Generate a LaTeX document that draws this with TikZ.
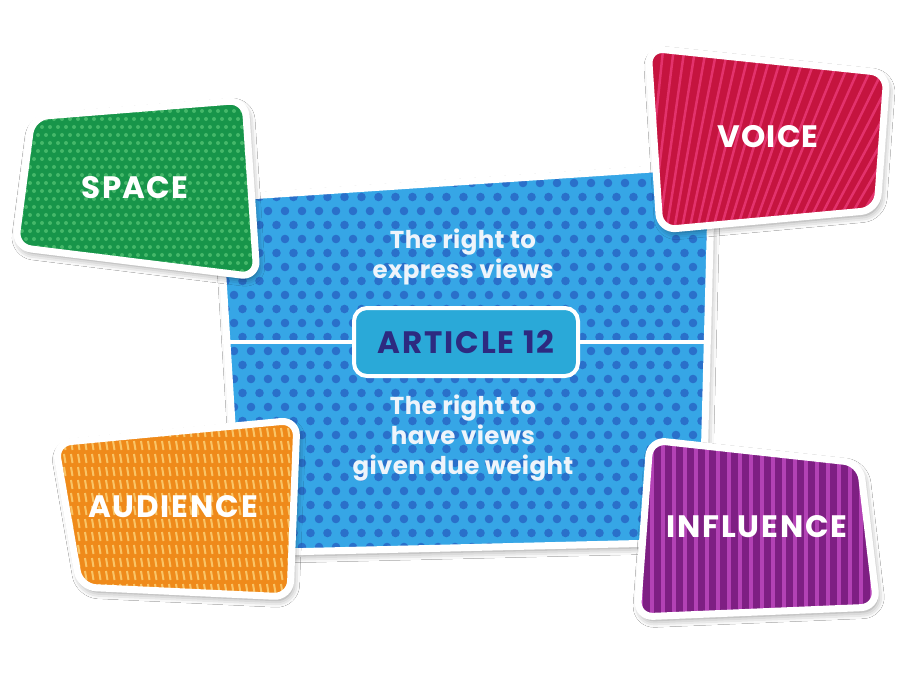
\documentclass[tikz,border=0pt]{standalone}
\usepackage{fontspec}
\setmainfont{Poppins}
\usetikzlibrary{shadows.blur}
\definecolor{bluebase}{HTML}{36A6E6}
\definecolor{bluedot}{HTML}{2A70CA}
\definecolor{greenbase}{HTML}{17954A}
\definecolor{greendot}{HTML}{45B86A}
\definecolor{redbase}{HTML}{C5143F}
\definecolor{redline}{HTML}{E3326C}
\definecolor{orangebase}{HTML}{EF8A1A}
\definecolor{orangeline}{HTML}{F9C466}
\definecolor{purplebase}{HTML}{7E1F83}
\definecolor{purpleline}{HTML}{B342B5}
\definecolor{artfill}{HTML}{2AA9D8}
\definecolor{arttext}{HTML}{2D2A80}
\definecolor{bodytxt}{HTML}{EEF4FB}
\begin{document}
\begin{tikzpicture}[x=1pt,y=-1pt,
  lbl/.style={text=white,font=\bfseries\fontsize{31}{34}\selectfont\addfontfeature{LetterSpace=4}},
  lblwide/.style={text=white,font=\bfseries\fontsize{31}{34}\selectfont\addfontfeature{LetterSpace=6}},
  body/.style={text=bodytxt,font=\bfseries\fontsize{24.5}{30}\selectfont\addfontfeature{LetterSpace=1.5},align=center},
  edgeline/.style={draw=white,line width=7pt,rounded corners=16pt,line join=round},
  sh/.style={blur shadow={shadow xshift=2pt,shadow yshift=-4pt,shadow blur radius=7pt,shadow opacity=45}},
  artbox/.style={draw=white,line width=4pt,fill=artfill,rounded corners=13pt,minimum width=224pt,minimum height=68pt,text=arttext,font=\bfseries\fontsize{31}{34}\selectfont\addfontfeature{LetterSpace=6}}]
\useasboundingbox (0,0) rectangle (900,675);
\fill[white] (0,0) rectangle (900,675);

% ---- central blue panel
\def\pblue{(218,198) -- (712,165) -- (702,542) -- (240,553) -- cycle}
\fill[bluebase,rounded corners=16pt,sh] \pblue;
\begin{scope}
\clip[rounded corners=16pt] \pblue;
\foreach \j in {0,...,29}{\foreach \i in {0,...,30}{
  \fill[bluedot] ({200+\i*17+mod(\j,2)*8.5},{155+\j*14}) circle (4.3pt);}}
\end{scope}
\draw[edgeline] \pblue;

\node[artbox] (art) at (466,342) {ARTICLE 12};
\coordinate (hl) at (222,342);
\coordinate (hr) at (709,342);
\draw[white,line width=4pt] (hl) -- (art.west);
\draw[white,line width=4pt] (art.east) -- (hr);
\node[body] (t1) at (463,257) {The right to\\express views};
\node[body] (t2) at (463,438) {The right to\\have views\\given due weight};

% ---- SPACE (green)
\def\pgreen{(32,117) -- (245,100) -- (257,277) -- (15,247) -- cycle}
\fill[greenbase,rounded corners=16pt,sh] \pgreen;
\begin{scope}
\clip[rounded corners=16pt] \pgreen;
\foreach \j in {0,...,23}{\foreach \i in {0,...,32}{
  \fill[greendot] ({10+\i*8+mod(\j,2)*4},{95+\j*8}) circle (2pt);}}
\end{scope}
\draw[edgeline] \pgreen;
\node[lbl] (space) at (135,188) {SPACE};

% ---- VOICE (red)
\def\pred{(648,48) -- (887,73) -- (877,210) -- (660,230) -- cycle}
\fill[redbase,rounded corners=16pt,sh] \pred;
\begin{scope}
\clip[rounded corners=16pt] \pred;
\foreach \a in {50,51,...,96}{
  \draw[redline,line width=2.5pt] (600,650) -- ++({cos(\a)*700},{-sin(\a)*700});}
\end{scope}
\draw[edgeline] \pred;
\node[lbl] (voice) at (768,137) {VOICE};

% ---- AUDIENCE (orange)
\def\porange{(55,443) -- (297,420) -- (290,597) -- (80,587) -- cycle}
\fill[orangebase,rounded corners=16pt,sh] \porange;
\begin{scope}
\clip[rounded corners=16pt] \porange;
\foreach \j in {0,...,14}{\foreach \i in {0,...,36}{
  \draw[orangeline,line width=2pt] ({50+\i*7},{415+\j*13}) -- ++(1.5,9);}}
\end{scope}
\draw[edgeline] \porange;
\node[lblwide] (audience) at (173,507) {AUDIENCE};

% ---- INFLUENCE (purple)
\def\ppurple{(650,440) -- (860,463) -- (877,607) -- (637,617) -- cycle}
\fill[purplebase,rounded corners=16pt,sh] \ppurple;
\begin{scope}
\clip[rounded corners=16pt] \ppurple;
\foreach \x in {630,641,...,885}{
  \draw[purpleline,line width=4pt] (\x,430) -- (\x,625);}
\end{scope}
\draw[edgeline] \ppurple;
\node[lblwide] (influence) at (757,527) {INFLUENCE};
\end{tikzpicture}
\end{document}
